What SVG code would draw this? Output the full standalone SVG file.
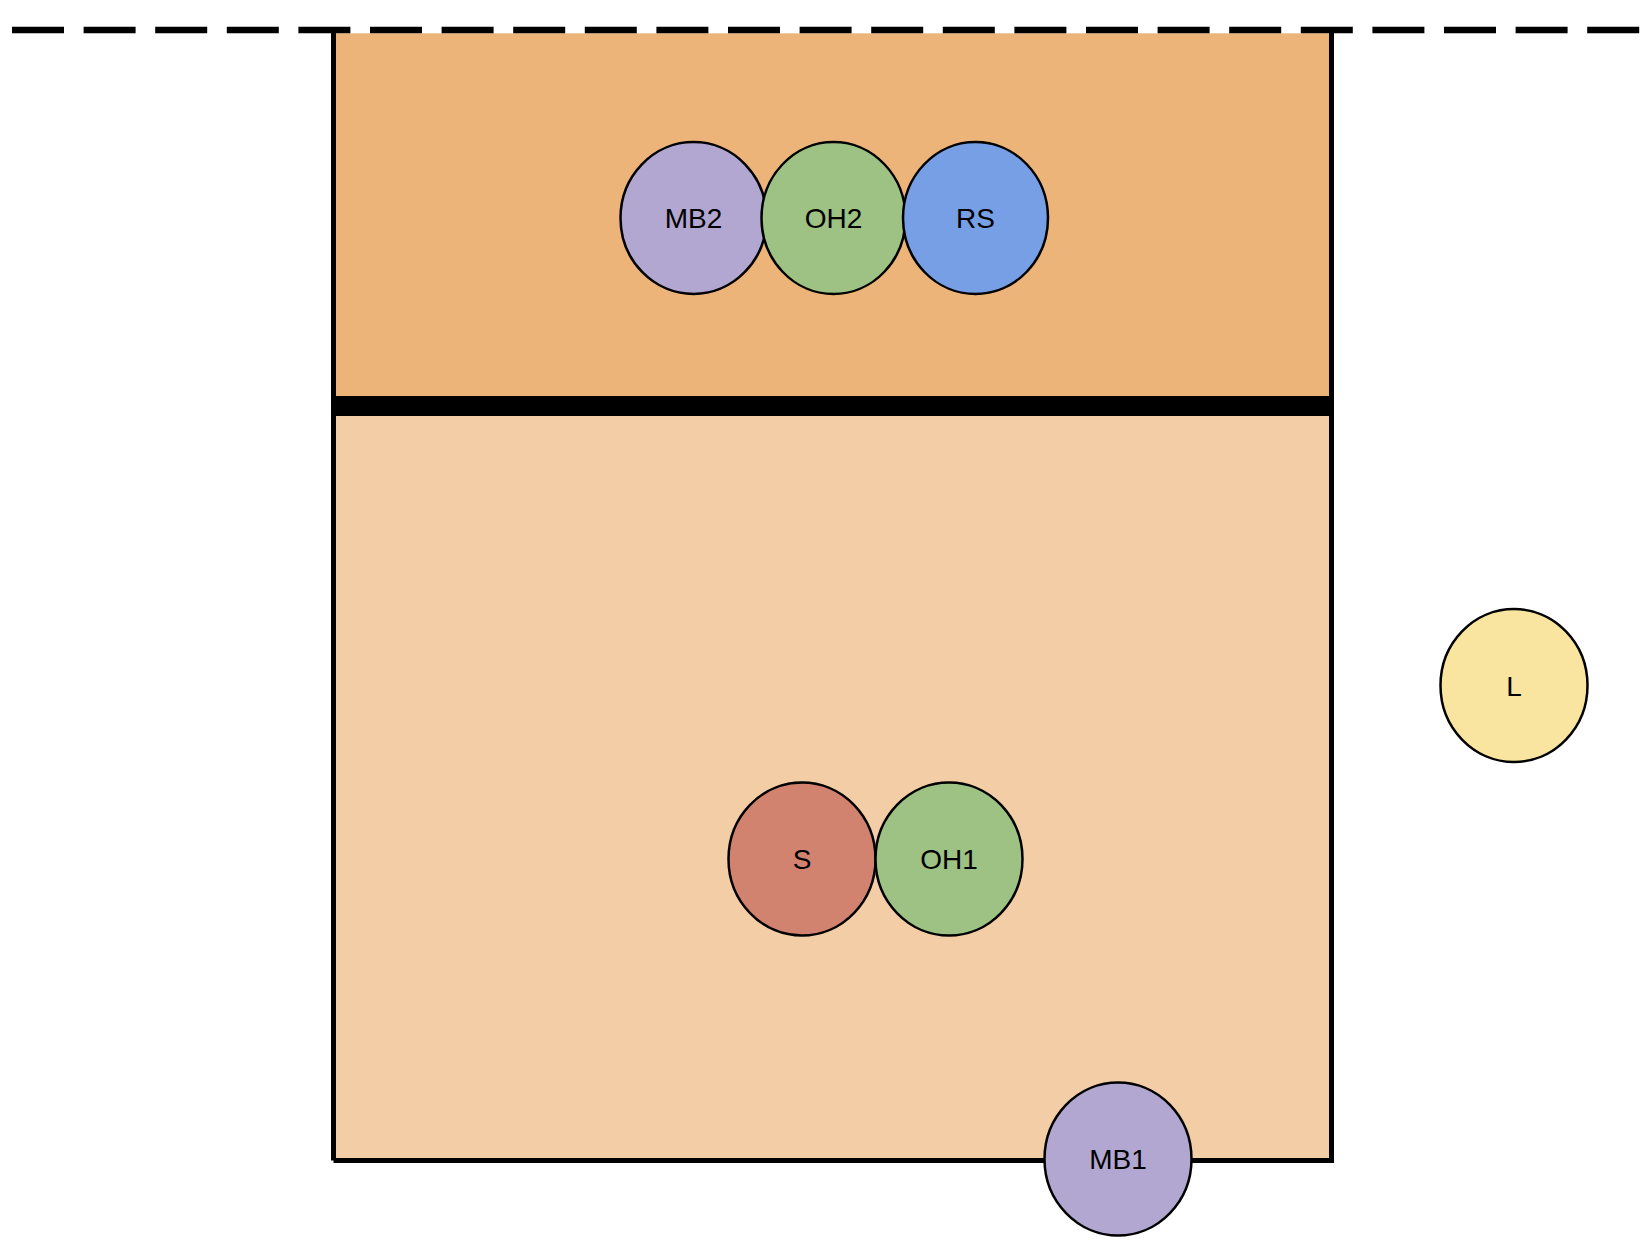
<svg xmlns="http://www.w3.org/2000/svg" width="1650" height="1249" viewBox="0 0 1650 1249">
<style>
.p{stroke:#000;stroke-width:2.5}
.t{font-family:"Liberation Sans",Arial,sans-serif;font-size:28px;text-anchor:middle;fill:#000}
.ln{stroke:#000;stroke-width:5;fill:none}
</style>
<rect width="1650" height="1249" fill="#fff"/>
<g id="court">
<rect x="333.5" y="33.3" width="998" height="372.7" fill="#ECB479"/>
<rect x="333.5" y="406" width="998" height="754.5" fill="#F3CDA5"/>
<line class="ln" x1="333.5" y1="32" x2="333.5" y2="1160.5"/>
<line class="ln" x1="1331.5" y1="32" x2="1331.5" y2="1163"/>
<line class="ln" x1="333.5" y1="1160.5" x2="1331.5" y2="1160.5"/>
<line x1="331" y1="406" x2="1334" y2="406" stroke="#000" stroke-width="20"/>
<line x1="12" y1="30" x2="1640" y2="30" stroke="#000" stroke-width="6.5" stroke-dasharray="52 19.6"/>
</g>
<g id="connectors"></g>
<g id="MB2"><ellipse class="p" cx="693.5" cy="218" rx="73" ry="76" fill="#B1A7D1"/><text class="t" x="693.5" y="228">MB2</text></g>
<g id="OH2"><ellipse class="p" cx="833.5" cy="218" rx="72" ry="76" fill="#9DC284"/><text class="t" x="833.5" y="228">OH2</text></g>
<g id="RS"><ellipse class="p" cx="975.5" cy="218" rx="72.5" ry="76" fill="#779FE5"/><text class="t" x="975.5" y="228">RS</text></g>
<g id="L"><ellipse class="p" cx="1514" cy="685.5" rx="73.5" ry="76.5" fill="#F9E4A0"/><text class="t" x="1514" y="695.5">L</text></g>
<g id="S"><ellipse class="p" cx="802" cy="859" rx="73.5" ry="76.5" fill="#D28370"/><text class="t" x="802" y="869">S</text></g>
<g id="OH1"><ellipse class="p" cx="949" cy="859" rx="73.5" ry="76.5" fill="#9DC284"/><text class="t" x="949" y="869">OH1</text></g>
<g id="MB1"><ellipse class="p" cx="1118" cy="1159" rx="73.5" ry="76.5" fill="#B1A7D1"/><text class="t" x="1118" y="1169">MB1</text></g>
</svg>
